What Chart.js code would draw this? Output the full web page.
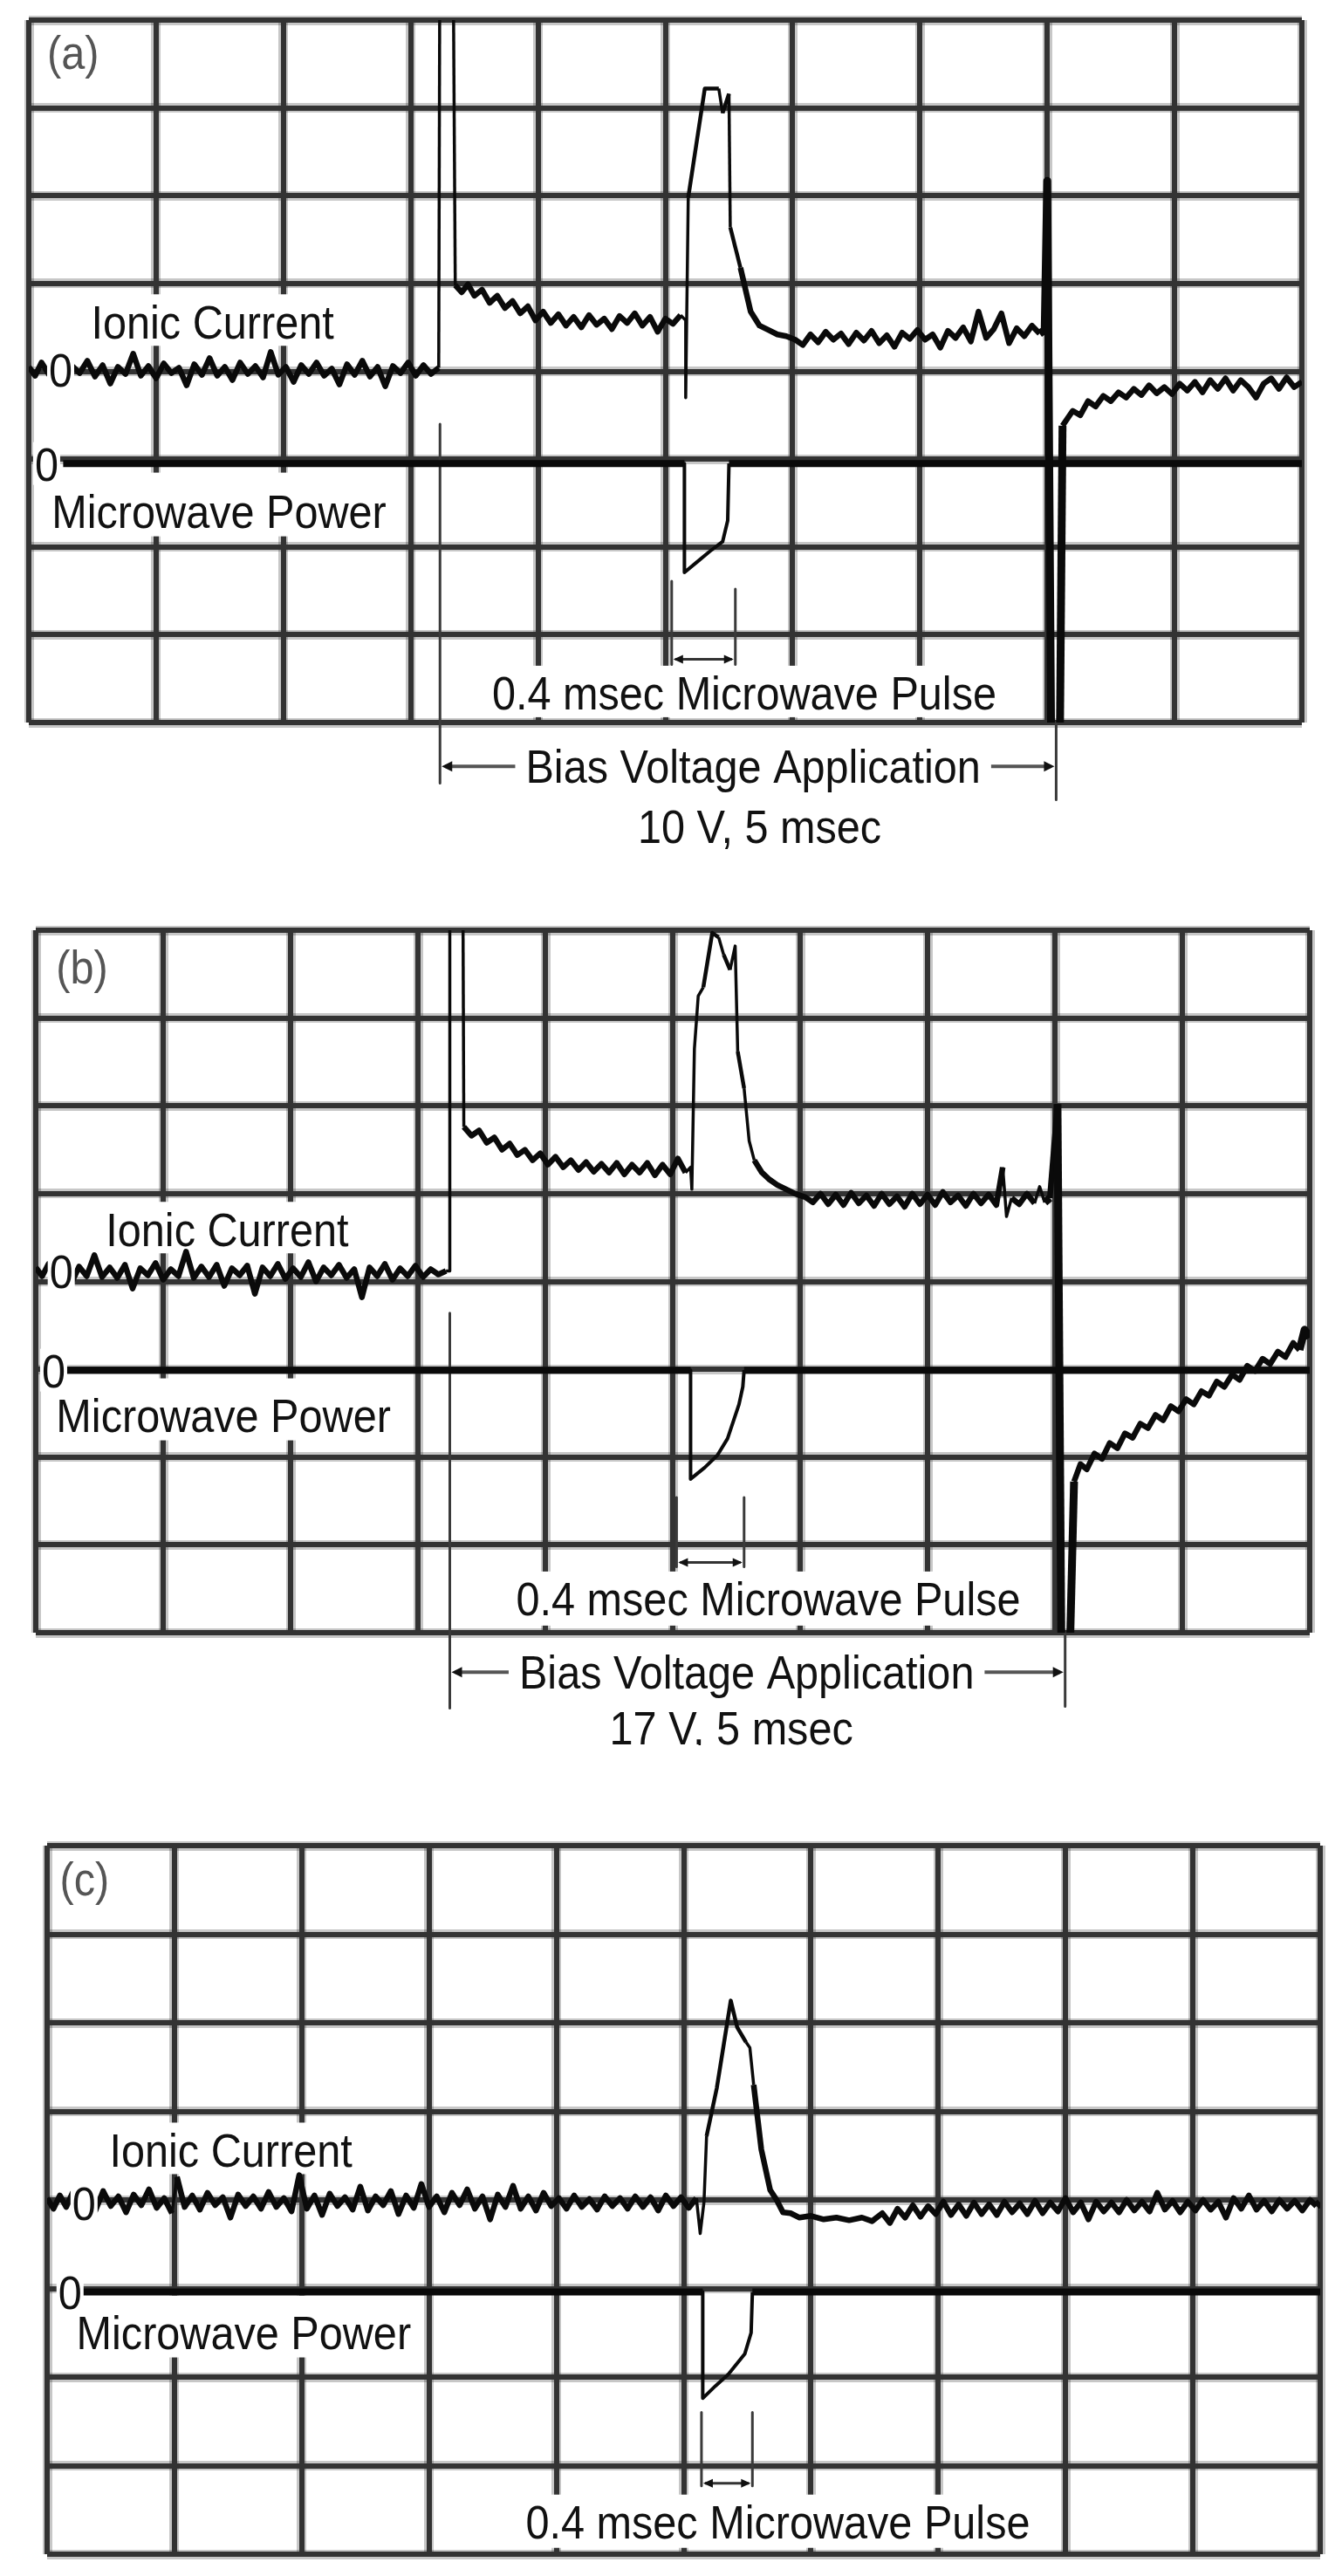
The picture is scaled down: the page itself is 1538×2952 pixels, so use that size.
<!DOCTYPE html>
<html><head><meta charset="utf-8">
<script src="https://cdn.jsdelivr.net/npm/chart.js@4.4.1/dist/chart.umd.min.js"></script>
<style>
html,body{margin:0;padding:0;background:#fff;}
body{width:1538px;height:2952px;position:relative;overflow:hidden;}
canvas{position:absolute;left:0;}
</style></head><body>
<canvas id="ca" width="1538" height="1000" style="top:0px"></canvas>
<canvas id="cb" width="1538" height="960" style="top:1040px"></canvas>
<canvas id="cc" width="1538" height="862" style="top:2090px"></canvas>
<script>
// ---------- DATA (x in time divisions 0..10, y in vertical divisions 0..8) ----------
const ionicA = [
[0.00,4.05],[0.05,3.95],[0.10,4.10],[0.16,3.96],[0.22,4.08],[0.28,3.93],[0.34,4.06],[0.40,3.98],[0.46,4.12],[0.52,3.94],[0.58,4.07],[0.64,3.86],[0.70,4.05],[0.76,3.97],[0.82,4.20],[0.88,3.95],[0.94,4.06],[1.00,3.92],[1.06,4.09],[1.12,3.98],[1.18,4.04],[1.24,3.84],[1.30,4.08],[1.36,3.96],[1.42,4.15],[1.48,3.95],[1.54,4.05],[1.60,3.90],[1.66,4.10],[1.72,3.97],[1.78,4.06],[1.84,3.93],[1.90,4.22],[1.96,3.96],[2.02,4.05],[2.08,3.88],[2.14,4.07],[2.20,3.97],[2.26,4.10],[2.32,3.95],[2.38,4.03],[2.44,3.85],[2.50,4.08],[2.56,3.96],[2.62,4.12],[2.68,3.94],[2.74,4.05],[2.80,3.83],[2.86,4.06],[2.92,3.98],[2.98,4.10],[3.04,3.95],[3.10,4.07],[3.16,3.97],[3.22,4.04],
[3.23,9.5],[3.33,9.5],[3.35,4.98],
[3.40,4.90],[3.45,4.99],[3.50,4.86],[3.56,4.93],[3.62,4.78],[3.68,4.86],[3.74,4.72],[3.80,4.80],[3.86,4.66],[3.92,4.74],[3.98,4.58],[4.04,4.68],[4.10,4.55],[4.16,4.65],[4.22,4.52],[4.28,4.62],[4.34,4.50],[4.40,4.64],[4.46,4.53],[4.52,4.60],[4.58,4.48],[4.64,4.63],[4.70,4.55],[4.76,4.66],[4.82,4.52],[4.88,4.62],[4.94,4.45],[5.00,4.60],[5.06,4.54],[5.12,4.64],[5.16,4.58],
[5.16,3.70],[5.18,5.98],[5.31,7.22],[5.42,7.22],[5.45,6.94],[5.50,7.16],[5.51,5.64],[5.59,5.18],[5.67,4.68],[5.74,4.52],[5.81,4.47],[5.88,4.42],[5.95,4.40],[6.02,4.36],
[6.08,4.30],[6.14,4.42],[6.20,4.33],[6.26,4.45],[6.32,4.36],[6.38,4.43],[6.44,4.31],[6.50,4.44],[6.56,4.35],[6.62,4.46],[6.68,4.32],[6.74,4.41],[6.80,4.28],[6.86,4.44],[6.92,4.37],[6.98,4.47],[7.04,4.36],[7.10,4.42],[7.16,4.27],[7.22,4.46],[7.28,4.38],[7.34,4.50],[7.40,4.34],[7.46,4.68],[7.52,4.38],[7.58,4.48],[7.64,4.66],[7.70,4.32],[7.76,4.49],[7.82,4.40],[7.88,4.52],[7.94,4.43],[7.98,4.47],
[8.00,6.17],[8.03,-0.05],[8.10,-0.05],[8.12,3.38],
[8.20,3.55],[8.26,3.50],[8.32,3.66],[8.38,3.60],[8.44,3.72],[8.50,3.66],[8.56,3.76],[8.62,3.70],[8.68,3.80],[8.74,3.73],[8.80,3.84],[8.86,3.75],[8.92,3.82],[8.98,3.74],[9.04,3.86],[9.10,3.78],[9.16,3.88],[9.22,3.76],[9.28,3.90],[9.34,3.80],[9.40,3.92],[9.46,3.78],[9.52,3.90],[9.58,3.82],[9.64,3.70],[9.70,3.86],[9.76,3.92],[9.82,3.80],[9.88,3.93],[9.94,3.82],[10.00,3.88]
];
const microA = [[0.27,2.95],[5.15,2.95],[5.15,1.71],[5.25,1.83],[5.35,1.95],[5.45,2.06],[5.49,2.30],[5.50,2.95],[10.00,2.95]];
const marksA = [
  [[3.23,3.40],[3.23,-0.69]],
  [[8.07,0.00],[8.07,-0.88]],
  [[5.05,1.61],[5.05,0.66]],
  [[5.55,1.52],[5.55,0.66]]
];

const ionicB = [
[0.00,4.16],[0.05,4.06],[0.10,4.20],[0.16,4.08],[0.22,4.18],[0.28,3.98],[0.34,4.17],[0.40,4.06],[0.46,4.30],[0.52,4.05],[0.58,4.16],[0.64,4.04],[0.70,4.19],[0.76,3.92],[0.82,4.15],[0.88,4.07],[0.94,4.21],[1.00,4.02],[1.06,4.14],[1.12,4.06],[1.18,4.34],[1.24,4.04],[1.30,4.17],[1.36,4.05],[1.42,4.19],[1.48,3.95],[1.54,4.15],[1.60,4.07],[1.66,4.18],[1.72,3.86],[1.78,4.16],[1.84,4.06],[1.90,4.20],[1.96,4.03],[2.02,4.15],[2.08,4.05],[2.14,4.22],[2.20,4.00],[2.26,4.16],[2.32,4.07],[2.38,4.19],[2.44,4.04],[2.50,4.14],[2.56,3.82],[2.62,4.16],[2.68,4.06],[2.74,4.20],[2.80,4.02],[2.86,4.15],[2.92,4.06],[2.98,4.18],[3.04,4.05],[3.10,4.14],[3.16,4.08],[3.22,4.12],
[3.25,4.12],[3.25,9.5],[3.35,9.5],[3.36,5.76],
[3.42,5.66],[3.48,5.72],[3.54,5.58],[3.60,5.64],[3.66,5.50],[3.72,5.57],[3.78,5.44],[3.84,5.50],[3.90,5.38],[3.96,5.46],[4.02,5.33],[4.08,5.42],[4.14,5.30],[4.20,5.38],[4.26,5.27],[4.32,5.36],[4.38,5.25],[4.44,5.34],[4.50,5.24],[4.56,5.35],[4.62,5.22],[4.68,5.33],[4.74,5.24],[4.80,5.35],[4.86,5.21],[4.92,5.33],[4.98,5.22],[5.04,5.40],[5.10,5.24],[5.14,5.30],
[5.15,5.05],[5.17,6.65],[5.20,7.25],[5.24,7.35],[5.31,7.97],[5.36,7.92],[5.40,7.72],[5.45,7.55],[5.49,7.82],[5.51,6.62],[5.56,6.20],[5.60,5.60],[5.64,5.38],[5.70,5.24],[5.76,5.16],[5.82,5.10],[5.89,5.05],[5.96,5.00],
[6.04,4.96],[6.10,4.90],[6.16,5.00],[6.22,4.88],[6.28,4.99],[6.34,4.87],[6.40,5.01],[6.46,4.89],[6.52,4.98],[6.58,4.86],[6.64,5.00],[6.70,4.88],[6.76,4.97],[6.82,4.85],[6.88,5.00],[6.94,4.88],[7.00,4.99],[7.06,4.87],[7.12,5.02],[7.18,4.90],[7.24,4.98],[7.30,4.86],[7.36,5.00],[7.42,4.89],[7.48,4.99],[7.54,4.87],[7.59,5.30],[7.62,4.74],[7.66,4.95],[7.72,4.88],[7.78,5.00],[7.84,4.89],[7.88,5.08],[7.92,4.90],[7.96,4.95],
[8.02,6.02],[8.05,-0.05],[8.12,-0.05],[8.15,1.72],
[8.20,1.92],[8.25,1.86],[8.31,2.04],[8.37,1.98],[8.43,2.16],[8.49,2.10],[8.55,2.27],[8.61,2.22],[8.67,2.38],[8.73,2.33],[8.79,2.48],[8.85,2.42],[8.91,2.58],[8.97,2.52],[9.03,2.66],[9.09,2.60],[9.15,2.75],[9.21,2.70],[9.27,2.86],[9.33,2.80],[9.39,2.94],[9.45,2.88],[9.51,3.04],[9.57,2.98],[9.63,3.12],[9.69,3.06],[9.75,3.20],[9.81,3.14],[9.87,3.30],[9.92,3.22],[9.96,3.45],[10.00,3.36]
];
const microB = [[0.20,2.99],[5.14,2.99],[5.14,1.75],[5.25,1.88],[5.35,2.02],[5.43,2.21],[5.52,2.60],[5.55,2.80],[5.56,2.99],[10.00,2.99]];
const marksB = [
  [[3.25,3.64],[3.25,-0.86]],
  [[8.08,0.00],[8.08,-0.84]],
  [[5.03,1.54],[5.03,0.75]],
  [[5.56,1.54],[5.56,0.75]]
];

const ionicC = [
[0.00,4.02],[0.05,3.90],[0.10,4.05],[0.15,3.92],[0.20,4.08],[0.26,3.90],[0.32,4.03],[0.38,3.88],[0.44,4.10],[0.50,3.93],[0.56,4.04],[0.62,3.86],[0.68,4.06],[0.74,3.94],[0.80,4.12],[0.86,3.91],[0.92,4.02],[0.98,3.85],[1.02,4.26],[1.08,3.92],[1.14,4.05],[1.20,3.89],[1.26,4.08],[1.32,3.94],[1.38,4.03],[1.44,3.80],[1.50,4.06],[1.56,3.93],[1.62,4.04],[1.68,3.90],[1.74,4.09],[1.80,3.92],[1.86,4.02],[1.92,3.87],[1.98,4.28],[2.04,3.90],[2.10,4.05],[2.16,3.83],[2.22,4.07],[2.28,3.93],[2.34,4.03],[2.40,3.89],[2.46,4.15],[2.52,3.88],[2.58,4.04],[2.64,3.94],[2.70,4.10],[2.76,3.84],[2.82,4.05],[2.88,3.91],[2.94,4.18],[3.00,3.92],[3.06,4.04],[3.12,3.86],[3.18,4.08],[3.24,3.94],[3.30,4.12],[3.36,3.90],[3.42,4.04],[3.48,3.78],[3.54,4.06],[3.60,3.92],[3.66,4.16],[3.72,3.90],[3.78,4.04],[3.84,3.88],[3.90,4.08],[3.96,3.93],[4.02,4.02],[4.08,3.90],[4.14,4.05],[4.20,3.92],[4.26,4.01],[4.32,3.89],[4.38,4.04],[4.44,3.93],[4.50,4.02],[4.56,3.90],[4.62,4.04],[4.68,3.92],[4.74,4.03],[4.80,3.88],[4.86,4.05],[4.92,3.93],[4.98,4.03],[5.04,3.91],[5.10,4.02],
[5.13,3.62],[5.16,3.98],[5.18,4.72],[5.26,5.26],[5.37,6.25],[5.42,5.95],[5.49,5.78],[5.52,5.72],[5.55,5.30],[5.61,4.57],[5.68,4.11],[5.73,4.00],[5.78,3.86],[5.84,3.85],[5.91,3.80],
[6.00,3.82],[6.10,3.78],[6.20,3.80],[6.30,3.77],[6.40,3.80],[6.48,3.76],[6.56,3.85],[6.62,3.74],[6.68,3.90],[6.74,3.80],[6.80,3.94],[6.86,3.81],[6.92,3.93],[6.98,3.84],[7.04,3.98],[7.10,3.83],[7.16,3.95],[7.22,3.82],[7.28,3.97],[7.34,3.84],[7.40,3.95],[7.46,3.83],[7.52,3.98],[7.58,3.86],[7.64,3.96],[7.70,3.84],[7.76,3.99],[7.82,3.85],[7.88,3.97],[7.94,3.87],[8.00,4.02],[8.06,3.86],[8.12,3.97],[8.18,3.78],[8.24,3.98],[8.30,3.87],[8.36,3.97],[8.42,3.86],[8.48,4.00],[8.54,3.88],[8.60,3.98],[8.66,3.87],[8.72,4.08],[8.78,3.89],[8.84,3.99],[8.90,3.86],[8.96,3.98],[9.02,3.88],[9.08,4.00],[9.14,3.89],[9.20,3.98],[9.26,3.80],[9.32,4.02],[9.38,3.90],[9.44,4.05],[9.50,3.89],[9.56,3.99],[9.62,3.87],[9.68,4.00],[9.74,3.90],[9.80,3.99],[9.86,3.88],[9.92,4.00],[9.97,3.93],[10.00,3.97]
];
const microC = [[0.27,2.96],[5.15,2.96],[5.15,1.76],[5.25,1.90],[5.35,2.03],[5.48,2.26],[5.53,2.50],[5.54,2.96],[10.00,2.96]];
const marksC = [
  [[5.14,1.60],[5.14,0.77]],
  [[5.54,1.60],[5.54,0.77]]
];

// ---------- annotation text (positions in divisions) ----------
const annA = {
  tag:{t:'(a)', x:0.144, y:7.44},
  texts:[
    {t:'Ionic Current', x:0.49, y:4.37, align:'left', box:[12,8]},
    {t:'Microwave Power', x:0.18, y:2.22, align:'left', box:[24,10]},
    {t:'0.4 msec Microwave Pulse', x:5.62, y:0.15, align:'center', box:[11,9]},
    {t:'Bias Voltage Application', x:5.69, y:-0.69, align:'center', bias:true},
    {t:'10 V, 5 msec', x:5.74, y:-1.37, align:'center'}
  ],
  zeros:[{x:0.25, y:4.02},{x:0.14, y:2.95}],
  pulseArrow:{x0:5.05, x1:5.55, y:0.72},
  biasArrow:{x0:3.23, x1:8.07, y:-0.50}
};
const annB = {
  tag:{t:'(b)', x:0.16, y:7.39},
  texts:[
    {t:'Ionic Current', x:0.55, y:4.40, align:'left', box:[12,8]},
    {t:'Microwave Power', x:0.16, y:2.29, align:'left', box:[22,10]},
    {t:'0.4 msec Microwave Pulse', x:5.75, y:0.20, align:'center', box:[11,12]},
    {t:'Bias Voltage Application', x:5.58, y:-0.64, align:'center', bias:true},
    {t:'17 V, 5 msec', x:5.46, y:-1.27, align:'center'}
  ],
  zeros:[{x:0.20, y:4.12},{x:0.14, y:2.99}],
  pulseArrow:{x0:5.03, x1:5.56, y:0.80},
  biasArrow:{x0:3.25, x1:8.08, y:-0.45}
};
const annC = {
  tag:{t:'(c)', x:0.10, y:7.44},
  texts:[
    {t:'Ionic Current', x:0.49, y:4.37, align:'left', box:[12,8]},
    {t:'Microwave Power', x:0.23, y:2.32, align:'left', box:[22,10]},
    {t:'0.4 msec Microwave Pulse', x:5.74, y:0.18, align:'center', box:[11,11]}
  ],
  zeros:[{x:0.29, y:3.97},{x:0.18, y:2.96}],
  pulseArrow:{x0:5.14, x1:5.54, y:0.80},
  biasArrow:null
};

// ---------- rendering helpers ----------
const SX = 0.9, FS = 54, CAP = Math.round(0.716*FS);
const FONT = FS + 'px "Liberation Sans", Arial, sans-serif';
const INK = '#111', TAGC = '#555';

function pts(a){ return a.map(p => ({x:p[0], y:p[1]})); }
function drawText(ctx, t, px, py, align, color){
  ctx.save(); ctx.font = FONT; ctx.fillStyle = color; ctx.textAlign = align; ctx.textBaseline = 'alphabetic';
  ctx.translate(px, py); ctx.scale(SX, 1); ctx.fillText(t, 0, 0); ctx.restore();
}
function measure(ctx, t){ ctx.save(); ctx.font = FONT; const w = ctx.measureText(t).width*SX; ctx.restore(); return w; }
function head(ctx, x, y, dir, len, hw){
  ctx.beginPath(); ctx.moveTo(x, y); ctx.lineTo(x - dir*len, y - hw); ctx.lineTo(x - dir*len, y + hw); ctx.closePath(); ctx.fill();
}
function annPlugin(cfg){
  return {
    id:'ann',
    beforeDatasetsDraw(chart){
      const ctx = chart.ctx, xs = chart.scales.x, ys = chart.scales.y;
      drawText(ctx, cfg.tag.t, xs.getPixelForValue(cfg.tag.x), ys.getPixelForValue(cfg.tag.y), 'left', TAGC);
      cfg.texts.forEach(l => {
        const px = xs.getPixelForValue(l.x), py = ys.getPixelForValue(l.y);
        if (l.box){
          const w = measure(ctx, l.t);
          const left = l.align === 'center' ? px - w/2 : px;
          ctx.fillStyle = '#fff';
          ctx.fillRect(left - 12, py - CAP - l.box[0], w + 24, CAP + l.box[0] + l.box[1]);
        }
        drawText(ctx, l.t, px, py, l.align, INK);
      });
    },
    afterDatasetsDraw(chart){
      const ctx = chart.ctx, xs = chart.scales.x, ys = chart.scales.y;
      cfg.zeros.forEach(z => {
        const px = xs.getPixelForValue(z.x), py = ys.getPixelForValue(z.y);
        const w = measure(ctx, '0');
        ctx.fillStyle = '#fff';
        ctx.fillRect(px - w/2 - 2, py - CAP/2 - 5, w + 4, CAP + 10);
        drawText(ctx, '0', px, py + CAP/2, 'center', INK);
      });
      ctx.save();
      ctx.strokeStyle = '#333'; ctx.fillStyle = '#111'; ctx.lineWidth = 3;
      const pa = cfg.pulseArrow;
      if (pa){
        const x0 = xs.getPixelForValue(pa.x0), x1 = xs.getPixelForValue(pa.x1), y = ys.getPixelForValue(pa.y);
        ctx.beginPath(); ctx.moveTo(x0 + 4, y); ctx.lineTo(x1 - 4, y); ctx.stroke();
        head(ctx, x0 + 2, y, -1, 11, 5); head(ctx, x1 - 2, y, 1, 11, 5);
      }
      const ba = cfg.biasArrow;
      if (ba){
        const bt = cfg.texts.find(t => t.bias);
        const w = measure(ctx, bt.t), cx = xs.getPixelForValue(bt.x);
        const x0 = xs.getPixelForValue(ba.x0), x1 = xs.getPixelForValue(ba.x1), y = ys.getPixelForValue(ba.y);
        ctx.strokeStyle = '#555'; ctx.lineWidth = 4;
        ctx.beginPath(); ctx.moveTo(x0 + 6, y); ctx.lineTo(cx - w/2 - 12, y); ctx.stroke();
        ctx.beginPath(); ctx.moveTo(cx + w/2 + 12, y); ctx.lineTo(x1 - 6, y); ctx.stroke();
        head(ctx, x0 + 2, y, -1, 12, 6); head(ctx, x1 - 2, y, 1, 12, 6);
      }
      ctx.restore();
    }
  };
}
const ionicSeg = c => {
  const a = c.p0.parsed.x, b = c.p1.parsed.x;
  if (Math.abs(b - a) < 0.045) return a > 7.9 ? 9 : 3.5;
  if (a >= 5.1 && b <= 5.6) return 4.5;
  return undefined;
};
const microSeg = c => {
  const a = c.p0.parsed.x, b = c.p1.parsed.x;
  if (a >= 5.1 && b <= 5.6) return 4;
  return undefined;
};
function axis(dir, max, lw, color, z){
  return {
    type:'linear', position: dir === 'x' ? 'bottom' : 'left', min:0, max:max,
    ticks:{display:false, stepSize:1},
    grid:{color:color, lineWidth:lw, drawTicks:false, z:z},
    border:{display:false},
    afterFit: s => { if (dir === 'x') s.height = 0; else s.width = 0; }
  };
}
function makeChart(id, pad, ionic, micro, marks, ann){
  const ds = [
    {data:pts(ionic), borderColor:'#0a0a0a', borderWidth:6.5, segment:{borderWidth:ionicSeg}},
    {data:pts(micro), borderColor:'#0a0a0a', borderWidth:8, segment:{borderWidth:microSeg}}
  ];
  marks.forEach(m => ds.push({data:pts(m), borderColor:'#3a3a3a', borderWidth:3, clip:false}));
  return new Chart(document.getElementById(id), {
    type:'line',
    data:{datasets:ds},
    options:{
      responsive:false, animation:false, devicePixelRatio:1, events:[],
      layout:{padding:pad},
      elements:{point:{radius:0}, line:{tension:0, borderJoinStyle:'round', fill:false}},
      plugins:{legend:{display:false}, tooltip:{enabled:false}},
      scales:{
        xf:axis('x',10,11,'rgba(0,0,0,0.22)',-2),
        yf:axis('y',8,11,'rgba(0,0,0,0.22)',-2),
        x:axis('x',10,6,'#333',-1),
        y:axis('y',8,6,'#333',-1)
      }
    },
    plugins:[annPlugin(ann)]
  });
}
makeChart('ca', {left:33, top:23, right:46, bottom:172}, ionicA, microA, marksA, annA);
makeChart('cb', {left:41, top:26, right:37, bottom:129}, ionicB, microB, marksB, annB);
makeChart('cc', {left:54, top:25, right:25, bottom:25}, ionicC, microC, marksC, annC);
</script>
</body></html>
